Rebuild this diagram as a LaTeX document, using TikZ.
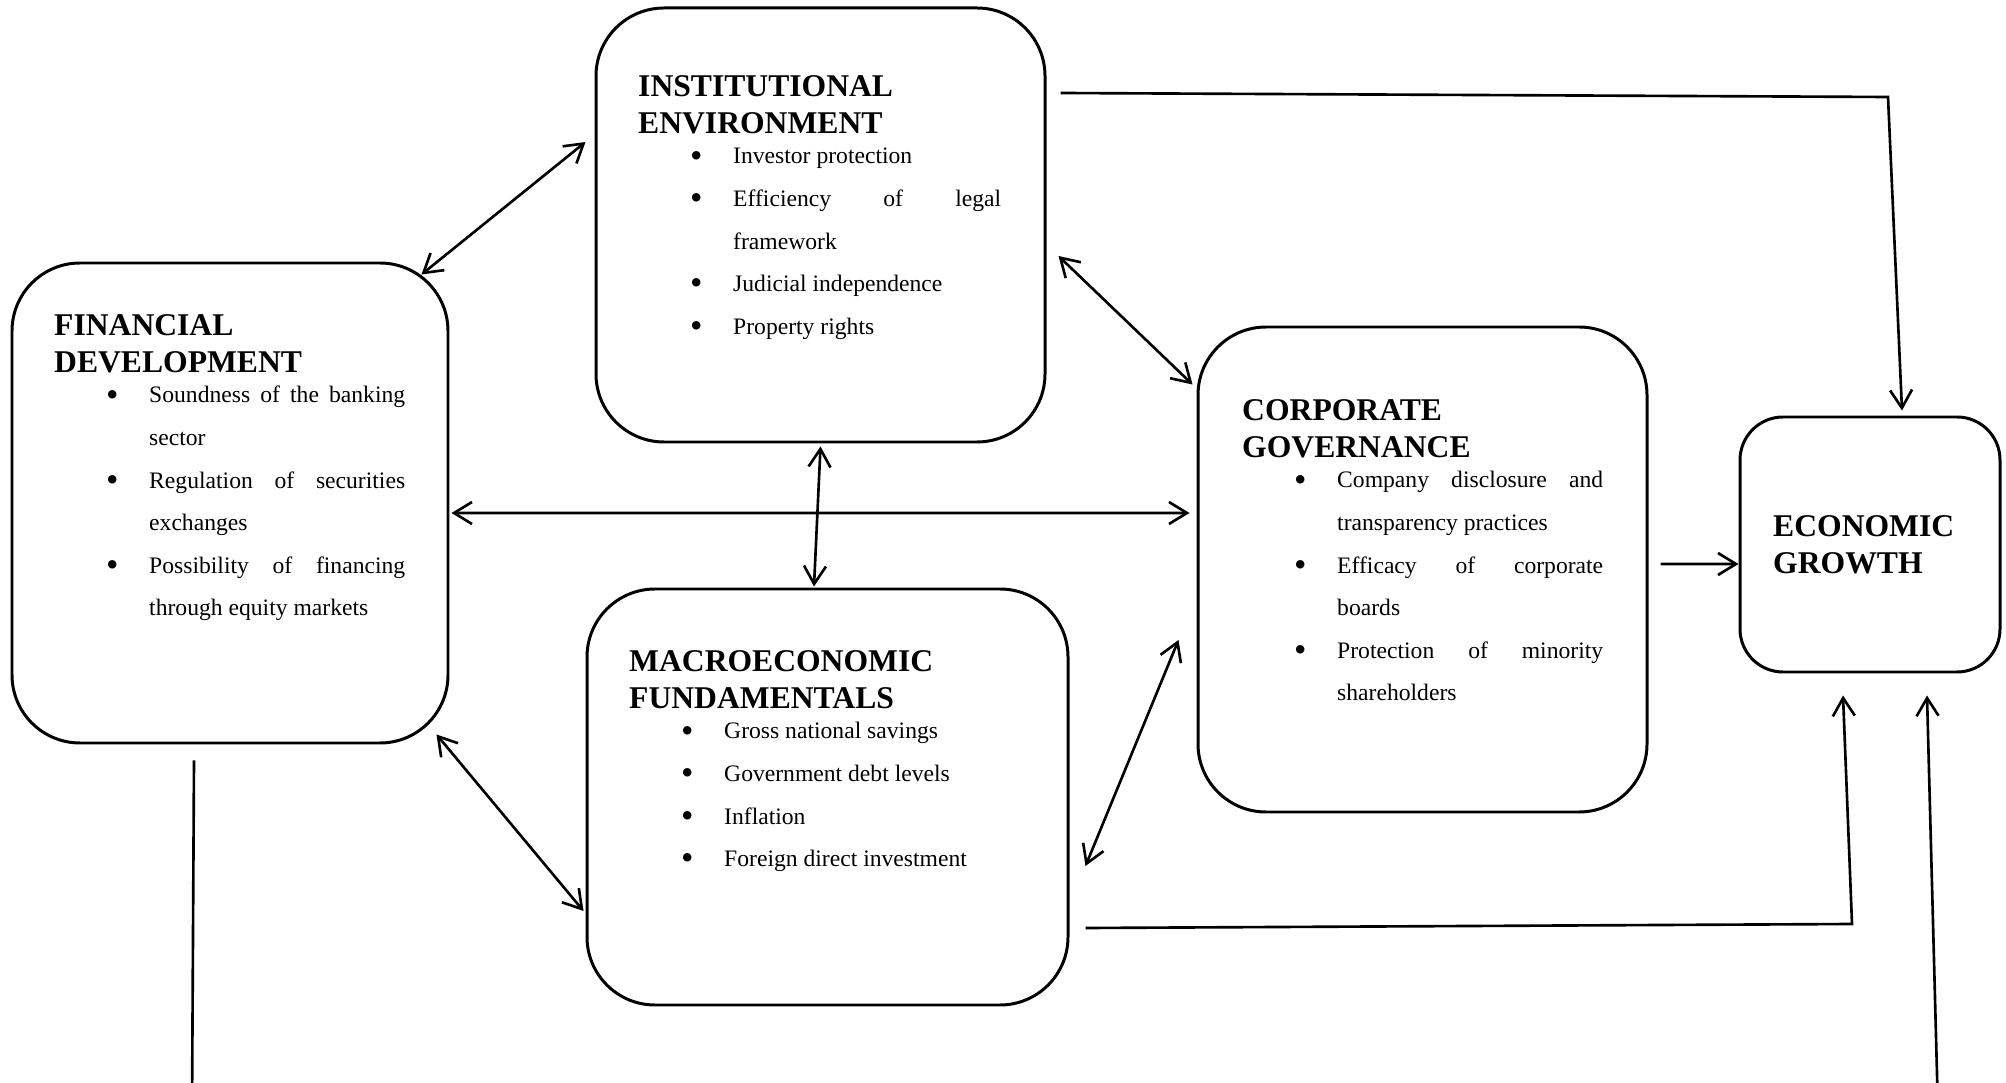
\documentclass[tikz,border=0pt]{standalone}
\usepackage{fontspec}
\setmainfont{Liberation Serif}
\usetikzlibrary{arrows.meta,positioning}

\newcommand{\boxtitle}[1]{{\fontsize{9}{10.4}\selectfont\bfseries #1\par}}
\newcommand{\pointfont}{\vspace{-3.3pt}\fontsize{6.72}{12.1}\selectfont\leftskip=5.2mm\relax}
\newcommand{\bpoint}[1]{\par\hangindent=4.3mm\hangafter=1\noindent\makebox[4.3mm][l]{\raisebox{-0.13em}{\scalebox{1.5}{\textbullet}}}#1\par}

\hyphenpenalty=10000
\exhyphenpenalty=10000
\hbadness=10000

\begin{document}
\begin{tikzpicture}[
				block/.style={
					rectangle,
					rounded corners=6.8mm,
					draw=black,
					line width=0.85pt,
					inner sep=0pt
				},
				blocktext/.style={
					anchor=base west,
					inner sep=0pt
				},
				link/.style={-{Straight Barb[length=1.8mm,width=2.2mm]},line width=0.75pt},
				dlink/.style={{Straight Barb[length=1.8mm,width=2.2mm]}-{Straight Barb[length=1.8mm,width=2.2mm]},line width=0.75pt}
				]
				\useasboundingbox (0,0) rectangle (200.6mm,108.2mm);
				\clip (0,0) rectangle (200.6mm,108.2mm);

				\node[block, minimum width=43.6mm, minimum height=48mm] (fd) at (23mm,57.9mm) {};
				\node[block, minimum width=44.9mm, minimum height=43.4mm] (ie) at (82.05mm,85.7mm) {};
				\node[block, minimum width=44.9mm, minimum height=48.5mm] (cg) at (142.25mm,51.25mm) {};
				\node[block, minimum width=48.1mm, minimum height=41.6mm] (mf) at (82.75mm,28.5mm) {};
				\node[block, rounded corners=4.3mm, minimum width=26mm, minimum height=25.5mm] (eg) at (187mm,53.75mm) {};

				\node[blocktext] (fdtext) at ([xshift=4.3mm,yshift=-7.4mm]fd.north west) {\begin{minipage}[t]{35.1mm}\parskip=0pt
					\boxtitle{FINANCIAL\\DEVELOPMENT}\pointfont
					\bpoint{Soundness of the banking\linebreak sector}
					\bpoint{Regulation of securities\linebreak exchanges}
					\bpoint{Possibility of financing\linebreak through equity markets}
				\end{minipage}};
				\node[blocktext] (ietext) at ([xshift=4.3mm,yshift=-9mm]ie.north west) {\begin{minipage}[t]{36.3mm}\parskip=0pt
					\boxtitle{INSTITUTIONAL\\ENVIRONMENT}\pointfont
					\bpoint{Investor protection}
					\bpoint{Efficiency of legal\linebreak framework}
					\bpoint{Judicial independence}
					\bpoint{Property rights}
				\end{minipage}};
				\node[blocktext] (cgtext) at ([xshift=4.5mm,yshift=-9.5mm]cg.north west) {\begin{minipage}[t]{36.1mm}\parskip=0pt
					\boxtitle{CORPORATE\\GOVERNANCE}\pointfont
					\bpoint{Company disclosure and\linebreak transparency practices}
					\bpoint{Efficacy of corporate\linebreak boards}
					\bpoint{Protection of minority\linebreak shareholders}
				\end{minipage}};
				\node[blocktext] (mftext) at ([xshift=4.3mm,yshift=-8.4mm]mf.north west) {\begin{minipage}[t]{36.2mm}\parskip=0pt
					\boxtitle{MACROECONOMIC\\FUNDAMENTALS}\pointfont
					\bpoint{Gross national savings}
					\bpoint{Government debt levels}
					\bpoint{Inflation}
					\bpoint{Foreign direct investment}
				\end{minipage}};
				\node[blocktext] (egtext) at ([xshift=3.4mm,yshift=-12.1mm]eg.north west) {\begin{minipage}[t]{22mm}\parskip=0pt
					\boxtitle{ECONOMIC\\GROWTH}
				\end{minipage}};

				\coordinate (topbend) at (188.8mm,98.5mm);
				\coordinate (midbend) at (185.2mm,15.8mm);
				\coordinate (lowleft) at (19.2mm,-3mm);
				\coordinate (lowright) at (193.8mm,-3mm);

				\draw[dlink] ([xshift=-2.8mm,yshift=-1.3mm]fd.north east) -- ([xshift=-0.9mm,yshift=8.3mm]ie.west);
				\draw[dlink] ([xshift=1.2mm,yshift=-3.1mm]ie.east) -- ([xshift=-0.4mm,yshift=-5.9mm]cg.north west);
				\draw[dlink] ([xshift=0.2mm,yshift=-1mm]fd.east) -- ([xshift=-0.7mm,yshift=5.65mm]cg.west);
				\draw[dlink] ([yshift=-0.3mm]ie.south) -- ([xshift=-1.35mm,yshift=0.1mm]mf.north);
				\draw[dlink] ([xshift=-1.3mm,yshift=1mm]fd.south east) -- ([xshift=-0.2mm,yshift=-11.4mm]mf.west);
				\draw[dlink] ([xshift=1.6mm,yshift=-6.9mm]mf.east) -- ([xshift=-1.8mm,yshift=-7.05mm]cg.west);
				\draw[link] ([xshift=1.2mm,yshift=0.55mm]cg.east) -- ([yshift=-1.95mm]eg.west);
				\draw[link] ([xshift=1.4mm,yshift=13.2mm]ie.east) -- (topbend) -- ([xshift=3.2mm,yshift=0.5mm]eg.north);
				\draw[link] ([xshift=1.6mm,yshift=-13.1mm]mf.east) -- (midbend) -- ([xshift=-2.7mm,yshift=-2.2mm]eg.south);
				\draw[link] ([xshift=-3.6mm,yshift=-1.6mm]fd.south) -- (lowleft) -- (lowright) -- ([xshift=5.7mm,yshift=-2.2mm]eg.south);
		\end{tikzpicture}
\end{document}
